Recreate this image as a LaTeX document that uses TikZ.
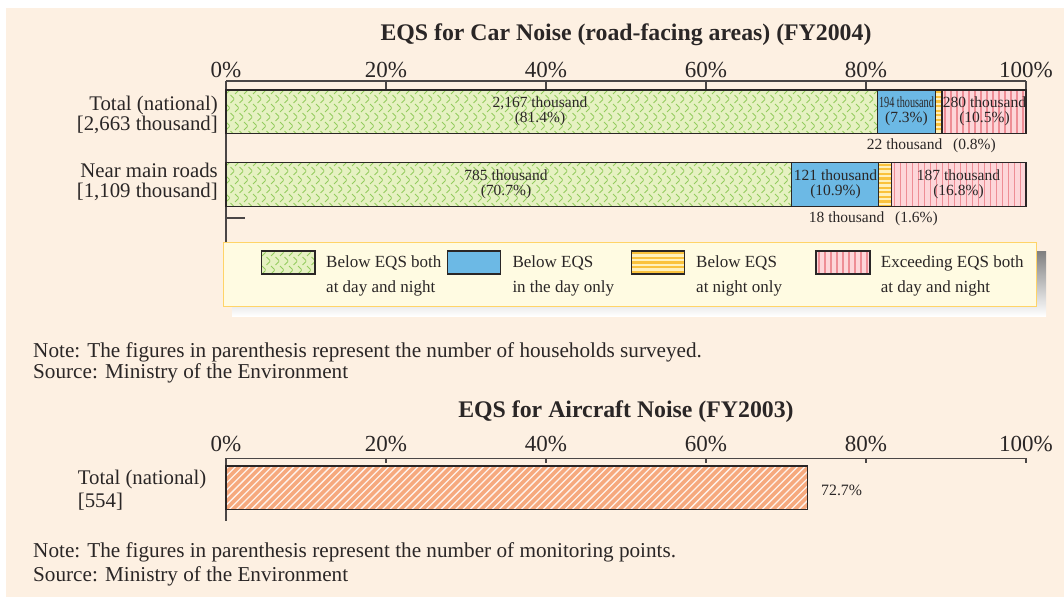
\documentclass[tikz,border=0pt]{standalone}
\usepackage{fontspec}
\setmainfont{Liberation Serif}
\usepackage{graphicx}

\definecolor{paper}{HTML}{FDF0E2}
\definecolor{ink}{HTML}{2A2626}
\definecolor{grnbg}{HTML}{E6F1C2}
\definecolor{grnln}{HTML}{93CC5E}
\definecolor{blu}{HTML}{6CB9E5}
\definecolor{ylwbg}{HTML}{FFF0BC}
\definecolor{ylwln}{HTML}{FAC23C}
\definecolor{redbg}{HTML}{FDD6D9}
\definecolor{redln}{HTML}{EE8D95}
\definecolor{salmon}{HTML}{F6A97E}
\definecolor{legbg}{HTML}{FFFBE2}
\definecolor{legbd}{HTML}{FFD468}
\definecolor{shade}{HTML}{AEB6B2}
\definecolor{axis}{HTML}{4A4646}

% green herringbone fill inside a rectangle
\newcommand\greenfill[4]{%
  \fill[grnbg] (#1,#2) rectangle (#3,#4);
  \begin{scope}
    \clip (#1,#2) rectangle (#3,#4);
    \pgfmathtruncatemacro\gia{floor((#1-226)/9)-1}
    \pgfmathtruncatemacro\gib{ceil((#3-226)/9)+1}
    \pgfmathtruncatemacro\gja{floor((#2)/9)-1}
    \pgfmathtruncatemacro\gjb{ceil((#4)/9)+1}
    \foreach \i in {\gia,...,\gib}{
      \foreach \j in {\gja,...,\gjb}{
        \pgfmathsetmacro\gx{226+9*\i+4.5*mod(\j,2)}
        \pgfmathsetmacro\gy{9*\j}
        \draw[grnln,line width=1pt] (\gx,\gy+4) -- ++(3.5,-3.5) (\gx+4.5,\gy+5) -- ++(3.5,3.5);
      }
    }
  \end{scope}}

% yellow horizontal stripes
\newcommand\yellowfill[4]{%
  \fill[ylwbg] (#1,#2) rectangle (#3,#4);
  \begin{scope}
    \clip (#1,#2) rectangle (#3,#4);
    \pgfmathtruncatemacro\yn{ceil((#4-#2)/4.6)}
    \foreach \k in {0,...,\yn}{
      \draw[ylwln,line width=2.2pt] (#1,#2+2.3+4.6*\k) -- (#3,#2+2.3+4.6*\k);
    }
  \end{scope}}

% red vertical stripes
\newcommand\redfill[4]{%
  \fill[redbg] (#1,#2) rectangle (#3,#4);
  \begin{scope}
    \clip (#1,#2) rectangle (#3,#4);
    \pgfmathtruncatemacro\rn{ceil((#3-#1)/6)}
    \foreach \k in {0,...,\rn}{
      \draw[redln,line width=1.5pt] (#1+3+6*\k,#2) -- (#1+3+6*\k,#4);
    }
  \end{scope}}

% salmon fill with white diagonal hatching
\newcommand\salmonfill[4]{%
  \fill[salmon] (#1,#2) rectangle (#3,#4);
  \begin{scope}
    \clip (#1,#2) rectangle (#3,#4);
    \pgfmathtruncatemacro\sn{ceil((#3-#1+60)/7.3)}
    \foreach \k in {0,...,\sn}{
      \draw[white!85!salmon,line width=1.3pt] (#1-55+7.3*\k,#4) -- ++(50,-50);
    }
  \end{scope}}

\begin{document}
\begin{tikzpicture}[x=1pt,y=-1pt,
  every node/.style={text=ink,inner sep=0pt},
  bartxt/.style={font=\fontsize{15.5}{15}\selectfont,align=center},
  rowlbl/.style={font=\fontsize{20.8}{20}\selectfont},
  ticklbl/.style={font=\fontsize{23}{23}\selectfont},
  heading/.style={font=\fontsize{23.8}{24}\selectfont\bfseries},
  legtxt/.style={font=\fontsize{17}{25}\selectfont,align=left,anchor=west},
  notetxt/.style={font=\fontsize{21.2}{21}\selectfont,anchor=west},
  outline/.style={draw=ink,line width=1.2pt},
  axisln/.style={draw=axis,line width=1.1pt}]

\useasboundingbox (0,0) rectangle (1064,597);
\fill[white] (0,0) rectangle (1064,597);
\fill[paper] (6,8) rectangle (1064,597);

% ---------------- car noise chart ----------------
\node[heading] (cartitle) at (626,35) {EQS for Car Noise (road-facing areas) (FY2004)};
\foreach \p [count=\k from 0] in {0,20,40,60,80,100}{
  \node[ticklbl] (ct\k) at (226+8*\p,70.5) {\p\%};
  \draw[axisln] (226+8*\p,81) -- (226+8*\p,90);
}
\draw[axisln] (226,81) -- (1026,81);
\draw[axisln] (226,81) -- (226,242);
\coordinate (stubA) at (226,218);
\coordinate (stubB) at (245,218);
\draw[axisln] (stubA) -- (stubB);

% bar 1: total (national)
\greenfill{226}{90}{877.2}{133.3}
\fill[blu] (877.2,90) rectangle (935.6,133.3);
\yellowfill{935.6}{90}{942}{133.3}
\redfill{942}{90}{1026}{133.3}
\draw[outline] (226,90) rectangle (1026,133.3);
\draw[outline] (877.2,90) -- (877.2,133.3) (935.6,90) -- (935.6,133.3) (942,90) -- (942,133.3);

% bar 2: near main roads
\greenfill{226}{162.3}{791.6}{206.7}
\fill[blu] (791.6,162.3) rectangle (878.8,206.7);
\yellowfill{878.8}{162.3}{891.6}{206.7}
\redfill{891.6}{162.3}{1026}{206.7}
\draw[outline] (226,162.3) rectangle (1026,206.7);
\draw[outline] (791.6,162.3) -- (791.6,206.7) (878.8,162.3) -- (878.8,206.7) (891.6,162.3) -- (891.6,206.7);

% row labels
\node[rowlbl,anchor=east,align=right] (row1) at (218,115) {Total (national)\\{[}2,663 thousand{]}};
\node[rowlbl,anchor=east,align=right] (row2) at (218,181.7) {Near main roads\\{[}1,109 thousand{]}};

% segment labels
\node[bartxt] (g1) at (540,111) {2,167 thousand\\(81.4\%)};
\node[bartxt] (b1) at (906.5,111) {\scalebox{0.66}[1]{194 thousand}\\(7.3\%)};
\node[bartxt] (r1) at (984.5,111) {280 thousand\\(10.5\%)};
\node[bartxt] (y1) at (931.3,146) {22 thousand\hspace{0.7em}(0.8\%)};
\node[bartxt] (g2) at (506,184.5) {785 thousand\\(70.7\%)};
\node[bartxt] (b2) at (835.5,184.5) {121 thousand\\(10.9\%)};
\node[bartxt] (r2) at (958.5,184.5) {187 thousand\\(16.8\%)};
\node[bartxt] (y2) at (873.3,218.3) {18 thousand\hspace{0.7em}(1.6\%)};

% legend
\fill[shade] (232,251) rectangle (1046,316);
\draw[legbd,fill=legbg,line width=1.2pt] (223.3,242.3) rectangle (1036.7,306.7);
\greenfill{261.7}{251}{315}{274}
\draw[outline] (261.7,251) rectangle (315,274);
\node[legtxt] (lg) at (326,275.8) {Below EQS both\\at day and night};
\fill[blu] (447.3,251) rectangle (500.7,274);
\draw[outline] (447.3,251) rectangle (500.7,274);
\node[legtxt] (lb) at (512.3,275.8) {Below EQS\\in the day only};
\yellowfill{631.7}{251}{684.3}{274}
\draw[outline] (631.7,251) rectangle (684.3,274);
\node[legtxt] (ly) at (696,275.8) {Below EQS\\at night only};
\redfill{816}{251}{870}{274}
\draw[outline] (816,251) rectangle (870,274);
\node[legtxt] (lr) at (880.7,275.8) {Exceeding EQS both\\at day and night};

\node[notetxt] (note1) at (33,352) {Note: The figures in parenthesis represent the number of households surveyed.};
\node[notetxt] (src1) at (33,373) {Source: Ministry of the Environment};

% ---------------- aircraft noise chart ----------------
\node[heading] (airtitle) at (626,412) {EQS for Aircraft Noise (FY2003)};
\foreach \p [count=\k from 0] in {0,20,40,60,80,100}{
  \node[ticklbl] (at\k) at (226+8*\p,443.5) {\p\%};
  \draw[axisln] (226+8*\p,458.3) -- (226+8*\p,462.7);
}
\draw[axisln] (226,458.3) -- (1026,458.3);
\draw[axisln] (226,458.3) -- (226,521);

\salmonfill{226}{466}{807.6}{509.3}
\draw[outline] (226,466) rectangle (807.6,509.3);
\node[font=\fontsize{15.8}{16}\selectfont,anchor=west] (apct) at (821,490) {72.7\%};
\node[font=\fontsize{20.8}{22.7}\selectfont,anchor=west,align=left] (arow) at (77.7,490.3) {Total (national)\\{[}554{]}};

\node[notetxt] (note2) at (33,552) {Note: The figures in parenthesis represent the number of monitoring points.};
\node[notetxt] (src2) at (33,576) {Source: Ministry of the Environment};
\end{tikzpicture}
\end{document}
